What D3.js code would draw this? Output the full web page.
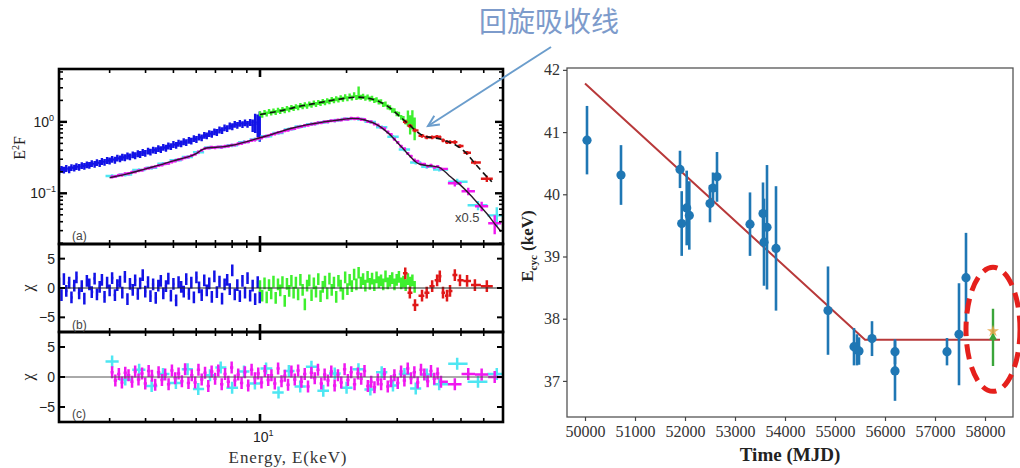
<!DOCTYPE html>
<html><head><meta charset="utf-8">
<script src="https://cdn.jsdelivr.net/npm/d3@7"></script>
<style>body{margin:0;background:#fff}svg{display:block}</style>
</head><body>
<svg id="c" width="1020" height="468"></svg>
<script>
// ---------------- DATA ----------------
// Spectra: energy (keV), E^2F, chi residual; relErr overrides as [energy, relative error]
const blueE = [2.00,2.04,2.08,2.12,2.17,2.21,2.26,2.30,2.35,2.40,2.45,2.50,2.55,2.60,2.66,2.71,2.77,2.82,2.88,2.94,
3.00,3.06,3.13,3.19,3.26,3.32,3.39,3.46,3.53,3.61,3.68,3.76,3.83,3.91,3.99,4.08,4.16,4.25,4.34,4.43,
4.52,4.61,4.71,4.80,4.90,5.00,5.11,5.21,5.32,5.43,5.54,5.66,5.77,5.89,6.01,6.14,6.27,6.40,6.53,6.66,
6.80,6.94,7.08,7.23,7.38,7.53,7.69,7.85,8.01,8.17,8.34,8.51,8.69,8.87,9.05,9.24,9.43,9.62,9.82,9.98];
const blueF = [0.205,0.218,0.212,0.224,0.215,0.230,0.226,0.238,0.232,0.246,0.240,0.252,0.247,0.262,0.255,0.270,0.263,0.280,0.273,0.290,
0.285,0.300,0.292,0.312,0.305,0.322,0.316,0.335,0.325,0.348,0.338,0.360,0.352,0.375,0.365,0.392,0.380,0.405,0.398,0.425,
0.412,0.442,0.430,0.462,0.452,0.485,0.472,0.505,0.495,0.530,0.515,0.555,0.540,0.585,0.570,0.615,0.600,0.650,0.640,0.690,
0.675,0.730,0.715,0.775,0.760,0.830,0.810,0.880,0.860,0.930,0.900,0.960,0.920,0.975,0.930,0.985,0.900,1.000,0.940,0.960];
const blueChi = [0.8,-1.2,1.5,-0.5,0.9,-1.6,0.4,1.8,-0.9,0.3,-1.8,1.2,0.6,-0.7,1.6,-1.1,0.2,1.4,-1.5,0.9,
-0.4,1.7,-1.2,0.5,1.1,-0.8,1.9,-1.9,0.7,-0.3,1.3,-1.0,0.8,2.2,-0.6,1.0,-1.4,0.6,-1.7,0.4,
1.2,-0.9,0.3,1.6,-1.3,0.7,-2.1,1.0,0.2,-0.6,1.5,-1.0,0.9,-1.6,1.8,0.1,-1.2,1.3,-0.4,0.8,
-1.5,2.0,-0.7,1.1,-1.8,0.6,1.4,-0.2,3.0,-1.1,0.5,-1.4,1.2,-0.8,1.7,-1.3,0.4,-1.9,1.0,-1.6];
const blueErrOverride = [[9.43,0.2],[9.62,0.3],[9.82,0.35],[9.98,0.45]];

const greenE = [10.0,10.18,10.37,10.55,10.75,10.94,11.14,11.34,11.55,11.76,11.97,12.19,12.41,12.63,12.86,13.09,13.33,13.57,13.82,14.07,
14.32,14.58,14.84,15.11,15.39,15.66,15.95,16.24,16.53,16.83,17.13,17.44,17.76,18.08,18.41,18.74,19.08,19.43,19.78,20.14,
20.50,20.87,21.25,21.64,22.03,22.43,22.83,23.25,23.67,24.10,24.53,24.98,25.43,25.89,26.36,26.83,27.32,27.81,
28.32,28.83,29.35,29.88,30.42,30.97,31.54,32.11,32.69,33.28,33.88,34.5];
const greenF = [1.30,1.24,1.36,1.29,1.40,1.33,1.42,1.36,1.46,1.40,1.50,1.44,1.55,1.48,1.60,1.54,1.64,1.58,1.70,1.63,
1.74,1.66,1.78,1.72,1.84,1.76,1.88,1.82,1.94,1.86,1.98,1.92,2.06,1.98,2.12,2.03,2.18,2.08,2.25,2.12,
2.32,2.16,2.40,2.20,2.60,2.22,2.30,2.15,2.24,2.10,2.15,2.00,2.05,1.90,1.92,1.76,1.78,1.62,
1.58,1.46,1.44,1.30,1.28,1.16,1.12,1.00,1.15,0.95,1.12,0.85];
const greenChi = [0.3,-1.3,0.8,-1.6,0.5,-0.9,1.1,-1.7,0.6,-0.4,1.0,-2.2,0.7,-0.5,1.2,-0.8,0.9,-1.1,1.4,-0.3,
-2.8,0.4,1.3,-1.2,0.8,-0.6,1.5,-1.4,0.2,1.1,-0.9,1.6,-0.3,0.9,-1.5,1.2,0.4,-1.0,1.8,-0.2,
1.4,0.3,2.3,0.6,2.6,0.9,1.5,0.4,1.9,0.7,1.6,0.5,1.8,1.0,1.3,0.6,2.0,0.8,
1.2,1.7,0.6,1.4,1.9,0.8,1.1,0.5,1.5,0.9,1.3,0.2];
const greenErrOverride = [[22.03,0.2],[32.69,0.25],[33.28,0.3],[33.88,0.3],[34.5,0.35]];

const redE   = [32.0,33.2,34.6,36.6,38.0,39.7,41.3,42.2,43.3,44.7,45.8,47.6,49.6,52.5,55.9,61.5];
const redF   = [1.00,0.88,0.76,0.64,0.61,0.61,0.62,0.61,0.55,0.52,0.52,0.52,0.46,0.37,0.27,0.16];
const redChi = [2.5,-0.8,-2.9,-1.3,-0.8,0.3,1.3,2.0,-0.8,-1.3,-0.5,2.2,1.3,1.2,0.5,0.3];
const redErrOverride = [[61.5,0.1]];

const magentaE = [3.06,3.14,3.23,3.31,3.40,3.49,3.59,3.68,3.78,3.89,3.99,4.10,4.21,4.32,4.44,4.56,4.68,4.81,4.94,5.07,
5.21,5.35,5.49,5.64,5.79,5.95,6.11,6.27,6.44,6.61,6.79,6.98,7.16,7.36,7.56,7.76,7.97,8.18,8.40,8.63,
8.86,9.10,9.35,9.60,9.86,10.12,10.40,10.68,10.96,11.26,11.56,11.88,12.20,12.52,12.86,13.21,13.57,13.93,14.31,14.69,
15.09,15.50,15.91,16.34,16.78,17.24,17.70,18.18,18.67,19.17,19.69,20.22,20.76,21.32,21.90,22.49,23.09,23.72,24.36,25.01,
25.69,26.38,27.09,27.82,28.57,29.34,30.13,30.95,31.78,32.64,33.52,34.42,35.35,36.30,37.28,38.29,39.32,40.38,41.47,42.59,
47.6,53.0,59.0,65.5];
const magentaF = [0.170,0.172,0.179,0.180,0.188,0.189,0.197,0.199,0.207,0.210,0.221,0.224,0.232,0.236,0.245,0.249,0.259,0.264,0.276,0.285,
0.296,0.302,0.316,0.322,0.338,0.352,0.378,0.402,0.425,0.432,0.440,0.436,0.446,0.444,0.455,0.458,0.472,0.476,0.493,0.500,
0.520,0.528,0.552,0.560,0.585,0.598,0.625,0.638,0.665,0.680,0.708,0.722,0.752,0.768,0.800,0.812,0.845,0.862,0.892,0.898,
0.928,0.938,0.968,0.975,1.005,1.010,1.040,1.038,1.065,1.062,1.095,1.090,1.125,1.105,1.122,1.085,1.075,1.015,1.000,0.935,
0.905,0.835,0.800,0.720,0.665,0.575,0.515,0.455,0.420,0.362,0.330,0.292,0.282,0.258,0.256,0.240,0.246,0.232,0.238,0.220,
0.138,0.107,0.066,0.038];
const magentaChi = [0.8,-0.6,0.5,-0.9,0.7,0.3,-0.8,0.9,-0.4,0.6,-1.1,1.0,0.2,-1.3,0.8,-0.5,0.4,-1.2,1.1,-0.2,
0.6,-0.7,1.3,-1.0,0.3,-0.9,1.2,-0.4,0.7,-1.5,0.9,-0.3,1.1,-1.2,0.5,-0.8,1.6,-0.6,0.4,-1.0,
0.8,-1.4,1.2,-0.2,0.6,-0.9,1.0,-0.5,0.3,-1.1,1.4,-0.7,0.2,-1.3,0.9,-0.4,1.1,-0.8,0.5,-1.6,
0.7,-0.2,1.2,-1.1,0.4,-0.6,0.9,-1.4,0.3,-0.9,1.3,-0.5,0.8,-1.2,0.6,-0.3,1.0,-1.5,-0.8,-1.7,
-0.4,-1.2,0.5,-1.6,-0.7,0.3,-1.0,0.9,-0.6,1.4,-0.2,0.8,-0.9,1.2,0.4,-0.7,1.0,-0.3,0.6,-0.8,
-1.2,0.5,0.4,0.0];
const magentaErrOverride = [[47.6,0.1],[53.0,0.12],[59.0,0.15],[65.5,0.3]];

const cyanE   = [3.06,3.4,3.8,4.2,4.6,5.1,5.6,6.1,6.7,7.3,8.0,8.8,9.6,10.5,11.6,12.6,13.8,15.1,16.6,18.2,
20.0,22.0,24.2,26.5,29.0,31.8,34.8,38.0,42.0,48.5,57.3,66.6];
const cyanF   = [0.175,0.183,0.212,0.228,0.259,0.290,0.322,0.375,0.437,0.445,0.470,0.520,0.568,0.630,0.700,0.785,0.860,0.930,0.990,1.040,
1.095,1.100,1.000,0.840,0.620,0.410,0.270,0.235,0.215,0.145,0.068,0.049];
const cyanChi = [2.6,-0.4,1.2,-1.5,0.5,-1.0,1.3,-2.0,0.3,1.6,-1.8,0.9,-1.1,1.4,-2.6,1.0,-1.6,1.7,-2.3,0.6,
-1.8,1.3,-2.1,0.8,-1.4,0.5,-1.9,0.4,-1.2,2.2,-0.8,0.5];
const cyanErrOverride = [[48.5,0.1],[57.3,0.15],[66.6,0.3]];

const specRelErr = {blue:0.11, green:0.08, red:0.06, magenta:0.05, cyan:0.06};

// model curves (energy, E^2F)
const modelSolidE = [3.0,3.5,4,4.5,5,5.5,6.0,6.3,6.6,7.0,7.5,8,9,10,11,12,13,14,15,16,17,18,19,20,21,22,23,24,25,26,27,28,29,30,31,32,33,34,35,36,38,40,42,44,46,48,50,54,58,62,66,69];
const modelSolidF = [0.165,0.19,0.22,0.25,0.285,0.315,0.36,0.41,0.435,0.44,0.45,0.47,0.53,0.60,0.67,0.75,0.82,0.88,0.93,0.97,1.01,1.04,1.07,1.10,1.12,1.11,1.07,1.01,0.95,0.87,0.78,0.69,0.60,0.52,0.45,0.39,0.34,0.30,0.27,0.255,0.245,0.24,0.23,0.20,0.17,0.148,0.128,0.094,0.068,0.05,0.036,0.029];
const modelDashedE = [10,12,14,16,18,20,22,24,26,28,30,32,34,36,38,40,42,45,48,52,56,60,64];
const modelDashedF = [1.27,1.45,1.68,1.85,2.02,2.15,2.22,2.12,1.92,1.62,1.28,1.02,0.82,0.68,0.62,0.60,0.58,0.53,0.47,0.37,0.26,0.19,0.145];

const energyMinorTicks = [3,4,5,6,7,8,9,20,30,40,50,60];
const energyMajorTicks = [10];
const fluxMajorTicks = [0.1, 1];
const fluxMinorTicks = [0.02,0.03,0.04,0.05,0.06,0.07,0.08,0.09,0.2,0.3,0.4,0.5,0.6,0.7,0.8,0.9,2,3,4,5];
const chiTicks = [-5, 0, 5];

// Right chart: cyclotron energy vs time
const mjd  = [50040,50720,51900,51934,52034,52086,52500,52560,52640,53300,53560,53580,53640,53820,54860,55380,55440,55480,55740,56200,56200,57240,57480,57620];
const ecyc = [40.87,40.31,40.40,39.53,39.78,39.66,39.85,40.10,40.28,39.52,39.69,39.23,39.47,39.13,38.13,37.55,37.50,37.48,37.68,37.47,37.16,37.47,37.75,38.66];
const ecycErr = [0.55,0.48,0.30,0.52,0.60,0.55,0.30,0.25,0.40,0.51,0.50,0.70,1.00,1.00,0.71,0.30,0.25,0.22,0.28,0.20,0.48,0.22,0.82,0.72];
const newMjd = [58160], newEcyc = [37.70], newErr = [0.46], newStar = [37.80];
const fitMjd  = [50000, 55600, 58300];
const fitEcyc = [41.78, 37.66, 37.66];
const mjdTicks = [50000,51000,52000,53000,54000,55000,56000,57000,58000];
const ecycTicks = [37,38,39,40,41,42];

// ---------------- DRAW ----------------
const svg = d3.select("#c");
const L = {x0:59, x1:503, aTop:69, aBot:244, bBot:332, cBot:422};
const xL = d3.scaleLog().domain([2,70]).range([L.x0,L.x1]);
const yA = d3.scaleLog().domain([0.0195,5.5]).range([L.aBot,L.aTop]);
const yB = d3.scaleLinear().domain([-7.5,7.5]).range([L.bBot,L.aBot]);
const yC = d3.scaleLinear().domain([-7.5,7.5]).range([L.cBot,L.bBot]);

function series(E,F,C,over){
  const o = new Map(over);
  return E.map((e,i)=>({e, f:F[i], c:C[i], r:o.get(e)}));
}
const S = {
  blue: series(blueE,blueF,blueChi,blueErrOverride),
  green: series(greenE,greenF,greenChi,greenErrOverride),
  red: series(redE,redF,redChi,redErrOverride),
  magenta: series(magentaE,magentaF,magentaChi,magentaErrOverride),
  cyan: series(cyanE,cyanF,cyanChi,cyanErrOverride)
};

const defs = svg.append("defs");
[["clipA",L.aTop,L.aBot],["clipB",L.aBot,L.bBot],["clipC",L.bBot,L.cBot]].forEach(([id,t,b])=>{
  defs.append("clipPath").attr("id",id).append("rect").attr("x",L.x0).attr("y",t).attr("width",L.x1-L.x0).attr("height",b-t);
});
const gA = svg.append("g").attr("clip-path","url(#clipA)");
const gB = svg.append("g").attr("clip-path","url(#clipB)");
const gC = svg.append("g").attr("clip-path","url(#clipC)");

function binEdges(data){
  const E = data.map(d=>d.e);
  return E.map((e,i)=>{
    const lo = i>0 ? Math.sqrt(E[i-1]*e) : e*e/Math.sqrt(e*E[i+1]);
    const hi = i<E.length-1 ? Math.sqrt(e*E[i+1]) : e*e/Math.sqrt(E[i-1]*e);
    return [lo,hi];
  });
}
function specPath(data, defErr){
  const ed = binEdges(data); const p = d3.path();
  data.forEach((d,i)=>{
    const r = d.r!==undefined ? d.r : defErr;
    const y = yA(d.f);
    p.moveTo(xL(ed[i][0]),y); p.lineTo(xL(ed[i][1]),y);
    p.moveTo(xL(d.e),yA(d.f*(1+r))); p.lineTo(xL(d.e),yA(Math.max(d.f*(1-r),1e-4)));
  });
  return p.toString();
}
function resPath(data, ys){
  const ed = binEdges(data); const p = d3.path();
  data.forEach((d,i)=>{
    const y = ys(d.c);
    p.moveTo(xL(ed[i][0]),y); p.lineTo(xL(ed[i][1]),y);
    p.moveTo(xL(d.e),ys(d.c+1)); p.lineTo(xL(d.e),ys(d.c-1));
  });
  return p.toString();
}
const col = {blue:"#1212e6", green:"#3ef02e", red:"#e01818", magenta:"#f018f0", cyan:"#4ee6f2"};
["blue","green","red","cyan","magenta"].forEach(k=>{
  gA.append("path").attr("d",specPath(S[k],specRelErr[k])).attr("stroke",col[k]).attr("stroke-width",2.4).attr("fill","none");
});
const line = d3.line().x(d=>xL(d[0])).y(d=>yA(d[1])).curve(d3.curveMonotoneX);
gA.append("path").datum(modelSolidE.map((e,i)=>[e,modelSolidF[i]])).attr("d",line)
  .attr("stroke","#2a1a2a").attr("stroke-width",1.4).attr("fill","none");
gA.append("path").datum(modelDashedE.map((e,i)=>[e,modelDashedF[i]])).attr("d",line)
  .attr("stroke","#111").attr("stroke-width",1.6).attr("stroke-dasharray","6,4").attr("fill","none");

["blue","green","red"].forEach(k=>{
  gB.append("path").attr("d",resPath(S[k],yB)).attr("stroke",col[k]).attr("stroke-width",2.5).attr("fill","none");
});
gB.append("line").attr("x1",L.x0).attr("x2",L.x1).attr("y1",yB(0)).attr("y2",yB(0)).attr("stroke","#222").attr("stroke-width",1);
["cyan","magenta"].forEach(k=>{
  gC.append("path").attr("d",resPath(S[k],yC)).attr("stroke",col[k]).attr("stroke-width",2.5).attr("fill","none");
});
gC.append("line").attr("x1",L.x0).attr("x2",L.x1).attr("y1",yC(0)).attr("y2",yC(0)).attr("stroke","#555").attr("stroke-width",1);

// frames & ticks
const tk = svg.append("g").attr("stroke","#000");
function tick(x1,y1,x2,y2,w){ tk.append("line").attr("x1",x1).attr("y1",y1).attr("x2",x2).attr("y2",y2).attr("stroke-width",w); }
[[L.aTop,L.aBot],[L.aBot,L.bBot],[L.bBot,L.cBot]].forEach(([t,b])=>{
  energyMinorTicks.forEach(e=>{ tick(xL(e),t,xL(e),t+4,1.6); tick(xL(e),b,xL(e),b-4,1.6); });
  energyMajorTicks.forEach(e=>{ tick(xL(e),t,xL(e),t+8,2.6); tick(xL(e),b,xL(e),b-8,2.6); });
});
fluxMinorTicks.forEach(v=>{ tick(L.x0,yA(v),L.x0+4,yA(v),1.6); tick(L.x1,yA(v),L.x1-4,yA(v),1.6); });
fluxMajorTicks.forEach(v=>{ tick(L.x0,yA(v),L.x0+8,yA(v),2.4); tick(L.x1,yA(v),L.x1-8,yA(v),2.4); });
[yB,yC].forEach(ys=>chiTicks.forEach(v=>{ tick(L.x0,ys(v),L.x0+6,ys(v),2); tick(L.x1,ys(v),L.x1-6,ys(v),2); }));
[[L.aTop,L.aBot],[L.aBot,L.bBot],[L.bBot,L.cBot]].forEach(([t,b])=>{
  svg.append("rect").attr("x",L.x0).attr("y",t).attr("width",L.x1-L.x0).attr("height",b-t)
    .attr("fill","none").attr("stroke","#000").attr("stroke-width",2.6);
});

// left labels
const sans = "Liberation Sans, Arial, sans-serif";
const serif = "Liberation Serif, Times New Roman, serif";
const lt = svg.append("g").attr("font-family",sans).attr("fill","#222");
function pow10Label(x,y,exp,anchor){
  const t = lt.append("text").attr("x",x).attr("y",y).attr("text-anchor",anchor).attr("font-size",14);
  t.append("tspan").text("10");
  t.append("tspan").attr("font-size",9).attr("dy",-6).text(exp);
}
pow10Label(54, yA(1)+5, "0", "end");
pow10Label(56, yA(0.1)+5, "−1", "end");
[yB,yC].forEach(ys=>chiTicks.forEach(v=>{
  lt.append("text").attr("x",55).attr("y",ys(v)+5).attr("text-anchor","end").attr("font-size",14).text(v<0?"−5":String(v));
}));
pow10Label(xL(10)-7, 442, "1", "start");
lt.append("text").attr("x",72).attr("y",240).attr("font-size",12).attr("fill","#444").text("(a)");
lt.append("text").attr("x",72).attr("y",329).attr("font-size",12).attr("fill","#444").text("(b)");
lt.append("text").attr("x",72).attr("y",418).attr("font-size",12).attr("fill","#444").text("(c)");
lt.append("text").attr("x",455).attr("y",222).attr("font-size",13).attr("fill","#444").text("x0.5");

const ls = svg.append("g").attr("font-family",serif).attr("fill","#222");
{
  const t = ls.append("text").attr("transform","translate(25,148) rotate(-90)").attr("text-anchor","middle").attr("font-size",16);
  t.append("tspan").text("E");
  t.append("tspan").attr("font-size",10).attr("dy",-6).text("2");
  t.append("tspan").attr("dy",6).text("F");
}
ls.append("text").attr("transform",`translate(33,${yB(0)}) rotate(-90)`).attr("text-anchor","middle").attr("font-size",16).text("χ");
ls.append("text").attr("transform",`translate(33,${yC(0)}) rotate(-90)`).attr("text-anchor","middle").attr("font-size",16).text("χ");
ls.append("text").attr("x",288).attr("y",463).attr("text-anchor","middle").attr("font-size",17).attr("letter-spacing",0.9).attr("fill","#333").text("Energy, E(keV)");

// ---------------- RIGHT CHART ----------------
const R = {x0:567, x1:1013, y0:68, y1:417};
const xR = d3.scaleLinear().domain([49640,58560]).range([R.x0,R.x1]);
const yR = d3.scaleLinear().domain([36.42,42.03]).range([R.y1,R.y0]);
const gR = svg.append("g");
gR.append("rect").attr("x",R.x0).attr("y",R.y0).attr("width",R.x1-R.x0).attr("height",R.y1-R.y0)
  .attr("fill","none").attr("stroke","#555").attr("stroke-width",1.3);
const axL = gR.append("g").attr("transform",`translate(${R.x0},0)`)
  .call(d3.axisLeft(yR).tickValues(ecycTicks).tickSize(4).tickPadding(3).tickFormat(d3.format("d")));
const axB = gR.append("g").attr("transform",`translate(0,${R.y1})`)
  .call(d3.axisBottom(xR).tickValues(mjdTicks).tickSize(4).tickPadding(5).tickFormat(d3.format("d")));
[axL,axB].forEach(a=>{
  a.select(".domain").remove();
  a.selectAll(".tick line").attr("stroke","#444").attr("stroke-width",1.2);
  a.selectAll(".tick text").attr("font-family",serif).attr("font-size",16).attr("fill","#333");
});
gR.append("path").datum(fitMjd.map((m,i)=>[m,fitEcyc[i]]))
  .attr("d",d3.line().x(d=>xR(d[0])).y(d=>yR(d[1])))
  .attr("stroke","#b8393a").attr("stroke-width",2).attr("fill","none");
const blueC = "#1f77b4";
gR.append("g").selectAll("line").data(mjd).join("line")
  .attr("x1",d=>xR(d)).attr("x2",d=>xR(d))
  .attr("y1",(d,i)=>yR(ecyc[i]+ecycErr[i])).attr("y2",(d,i)=>yR(ecyc[i]-ecycErr[i]))
  .attr("stroke",blueC).attr("stroke-width",2.6);
gR.append("g").selectAll("circle").data(mjd).join("circle")
  .attr("cx",d=>xR(d)).attr("cy",(d,i)=>yR(ecyc[i])).attr("r",4.6).attr("fill",blueC);
gR.append("g").selectAll("line").data(newMjd).join("line")
  .attr("x1",d=>xR(d)).attr("x2",d=>xR(d))
  .attr("y1",(d,i)=>yR(newEcyc[i]+newErr[i])).attr("y2",(d,i)=>yR(newEcyc[i]-newErr[i]))
  .attr("stroke","#3aa53a").attr("stroke-width",2.4);
gR.append("g").selectAll("path").data(newMjd).join("path").attr("d",d3.symbol(d3.symbolTriangle,28)())
  .attr("transform",(d,i)=>`translate(${xR(d)},${yR(newEcyc[i])})`).attr("fill","#3aa53a");
gR.append("g").selectAll("path").data(newMjd).join("path").attr("d",d3.symbol(d3.symbolStar,45)())
  .attr("transform",(d,i)=>`translate(${xR(d)},${yR(newStar[i])})`).attr("fill","#e6a64a").attr("opacity",0.85);
gR.append("ellipse").attr("cx",xR(newMjd[0])).attr("cy",yR(newEcyc[0])-8).attr("rx",27).attr("ry",62)
  .attr("fill","none").attr("stroke","#e5201c").attr("stroke-width",5).attr("stroke-dasharray","15,8");
gR.append("text").attr("x",790).attr("y",461).attr("text-anchor","middle").attr("font-family",serif)
  .attr("font-weight","bold").attr("font-size",19).attr("fill","#222").text("Time (MJD)");
{
  const t = gR.append("text").attr("transform","translate(533,246) rotate(-90)").attr("text-anchor","middle")
    .attr("font-family",serif).attr("font-weight","bold").attr("font-size",17).attr("fill","#222");
  t.append("tspan").text("E");
  t.append("tspan").attr("font-size",11).attr("dy",4).text("cyc");
  t.append("tspan").attr("dy",-4).text(" (keV)");
}

// annotation
const ann = svg.append("g");
ann.append("text").attr("x",479).attr("y",32).attr("font-family","Noto Sans CJK SC, sans-serif").attr("font-size",28)
  .attr("fill","#7d9bcb").text("回旋吸收线");
ann.append("line").attr("x1",551).attr("y1",47).attr("x2",428).attr("y2",126).attr("stroke","#6b9dcc").attr("stroke-width",2);
{
  const ang = Math.atan2(126-47, 428-551);
  const hx=428, hy=126, len=12;
  const p = d3.path();
  p.moveTo(hx - len*Math.cos(ang-0.45), hy - len*Math.sin(ang-0.45));
  p.lineTo(hx,hy);
  p.lineTo(hx - len*Math.cos(ang+0.45), hy - len*Math.sin(ang+0.45));
  ann.append("path").attr("d",p.toString()).attr("fill","none").attr("stroke","#6b9dcc").attr("stroke-width",2);
}
</script>
</body></html>
